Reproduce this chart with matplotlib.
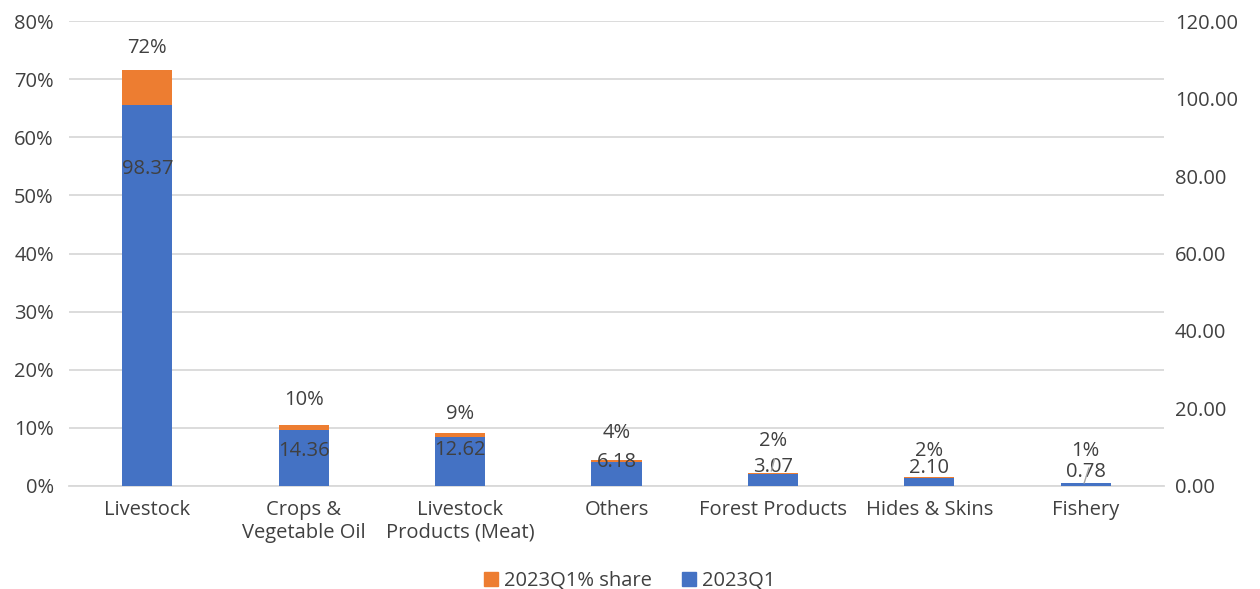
import matplotlib.pyplot as plt
import numpy as np

plt.rcParams['font.family'] = ['Open Sans', 'DejaVu Sans']

categories = ['Livestock', 'Crops &\nVegetable Oil', 'Livestock\nProducts (Meat)', 'Others',
              'Forest Products', 'Hides & Skins', 'Fishery']
values_q1 = [98.37, 14.36, 12.62, 6.18, 3.07, 2.10, 0.78]
share_pct = [71.55, 10.45, 9.18, 4.50, 2.23, 1.53, 0.57]
share_labels = ['72%', '10%', '9%', '4%', '2%', '2%', '1%']

# label placement (right axis units for values, left axis % for shares)
value_label_y = [81.9, 9.0, 9.3, 6.2, 4.9, 4.6, 3.6]
share_label_y = [75.4, 14.8, 12.4, 9.1, 7.7, 6.1, 6.0]

orange = '#ED7D31'
blue = '#4472C4'
txt = '#404040'
fs = 14.5

fig = plt.figure(figsize=(12.6, 5.89), dpi=100)
ax = fig.add_axes([0.0548, 0.1749, 0.8690, 0.7894])
ax2 = ax.twinx()

x = np.arange(len(categories))
w = 0.32
ax.bar(x, share_pct, width=w, color=orange, zorder=2)
ax2.bar(x, values_q1, width=w, color=blue, zorder=2)

ax.set_ylim(0, 80)
ax2.set_ylim(0, 120)
ax.set_xlim(-0.5, len(categories) - 0.5)
ax.set_yticks(np.arange(0, 81, 10))
ax.set_yticklabels([f'{v}%' for v in range(0, 81, 10)])
ax2.set_yticks(np.arange(0, 121, 20))
ax2.set_yticklabels([f'{v:.2f}' for v in range(0, 121, 20)])
ax.set_xticks(x)
ax.set_xticklabels(categories, linespacing=1.2)

ax.yaxis.grid(True, color='#D9D9D9', linewidth=1.3, zorder=0)
ax.set_axisbelow(True)
for a in (ax, ax2):
    for s in a.spines.values():
        s.set_visible(False)
    a.tick_params(length=0, labelsize=fs, labelcolor=txt)
ax.tick_params(axis='y', pad=11)
ax2.tick_params(axis='y', pad=8)
ax.tick_params(axis='x', pad=10)
ax.spines['bottom'].set_visible(True)
ax.spines['bottom'].set_color('#D9D9D9')
ax.spines['bottom'].set_linewidth(1.3)

for i in range(len(categories)):
    ax.text(x[i], share_label_y[i], share_labels[i], ha='center', va='center',
            fontsize=fs, color=txt, zorder=5)
    ax2.text(x[i], value_label_y[i], f'{values_q1[i]:.2f}', ha='center', va='center',
             fontsize=fs, color=txt, zorder=5)

# leader lines for the small bars
ax2.plot([x[4] + 0.01, x[4] - 0.01], [7.0, 3.9], color='#A6A6A6', lw=1, zorder=6)
ax2.plot([x[6] + 0.02, x[6] - 0.01], [4.6, 0.8], color='#A6A6A6', lw=1, zorder=6)

handles = [plt.Rectangle((0, 0), 1, 1, color=orange), plt.Rectangle((0, 0), 1, 1, color=blue)]
fig.legend(handles, ['2023Q1% share', '2023Q1'], loc='center', bbox_to_anchor=(0.5, 0.013),
           ncol=2, frameon=False, fontsize=fs, handlelength=0.7, handleheight=0.7,
           handletextpad=0.3, columnspacing=1.5, labelcolor=txt)

fig.savefig('out.png', dpi=100)
